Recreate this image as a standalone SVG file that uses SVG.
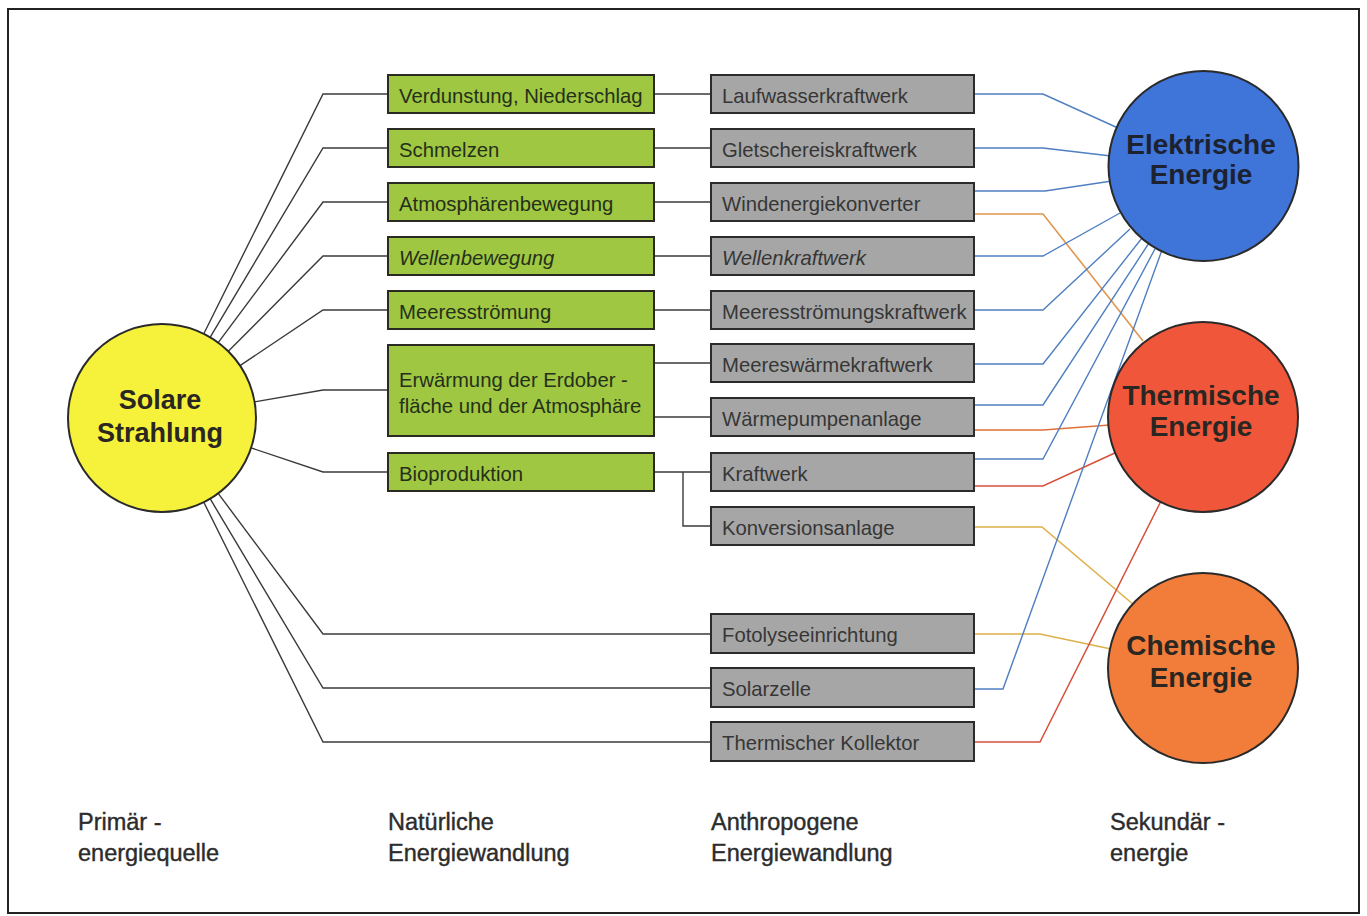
<svg xmlns="http://www.w3.org/2000/svg" width="1367" height="916" viewBox="0 0 1367 916">
<style>
.frame{fill:#ffffff;stroke:#222;stroke-width:2}
.gbox{fill:#9fc742;stroke:#2a2a22;stroke-width:2}
.xbox{fill:#a6a6a6;stroke:#2b2b2b;stroke-width:2}
.gt{font-family:"Liberation Sans",Arial,sans-serif;font-size:20.3px;fill:#25301a}
.xt{font-family:"Liberation Sans",Arial,sans-serif;font-size:20.3px;fill:#363636}
.it{font-style:italic}
.ct{font-family:"Liberation Sans",Arial,sans-serif;font-size:28px;font-weight:bold;fill:#2a2622;text-anchor:middle}
.lab{font-family:"Liberation Sans",Arial,sans-serif;font-size:23.5px;fill:#2c2c2c;stroke:#2c2c2c;stroke-width:0.4}
.k{fill:none;stroke:#3a3a3a;stroke-width:1.4}
.b{fill:none;stroke:#4f7fc0;stroke-width:1.4}
.o{fill:none;stroke:#e09650;stroke-width:1.6}
.r{fill:none;stroke:#d8503a;stroke-width:1.5}
.ro{fill:none;stroke:#e0703a;stroke-width:1.5}
.y{fill:none;stroke:#ddb04a;stroke-width:1.6}
.circ{stroke:#2a2a2a;stroke-width:2}
</style>
<rect class="frame" x="8" y="9" width="1351" height="904"/>
<g id="connectors">
<path class="k" d="M203.8,333.8 L323,94 H388"/>
<path class="k" d="M210.1,337.3 L323,148 H388"/>
<path class="k" d="M218.2,342.6 L323,202 H388"/>
<path class="k" d="M228.3,351.3 L323,256 H388"/>
<path class="k" d="M240,365.6 L323,310 H388"/>
<path class="k" d="M254.6,401.9 L323,390 H388"/>
<path class="k" d="M251.1,447.9 L323,472 H388"/>
<path class="k" d="M218.2,493.4 L323,634 H711"/>
<path class="k" d="M210.1,498.7 L323,688 H711"/>
<path class="k" d="M203.8,502.2 L323,742 H711"/>
<path class="k" d="M654,94 H711 M654,148 H711 M654,202 H711 M654,256 H711 M654,310 H711 M654,363 H711 M654,417 H711 M654,472 H711 M683,472 V526 H711"/>
<path class="b" d="M974,94 H1043 L1118,128"/>
<path class="b" d="M974,148 H1043 L1111,156"/>
<path class="b" d="M974,191 H1045 L1112,181"/>
<path class="o" d="M974,214 H1043 L1143,341"/>
<path class="b" d="M974,256 H1043 L1120,213"/>
<path class="b" d="M974,310 H1043 L1130,229"/>
<path class="b" d="M974,364 H1043 L1142,238"/>
<path class="b" d="M974,405 H1043 L1149,243"/>
<path class="ro" d="M974,430 H1043 L1110,425"/>
<path class="b" d="M974,459 H1043 L1156,247"/>
<path class="r" d="M974,486 H1043 L1117,452"/>
<path class="y" d="M974,527 H1042 L1134,605"/>
<path class="y" d="M974,634 H1040 L1111,649"/>
<path class="b" d="M974,689 H1003 L1162,250"/>
<path class="r" d="M974,742 H1040 L1161,501"/>
</g>
<g id="solar">
<circle class="circ" cx="162" cy="418" r="94" fill="#f6f23c"/>
<text class="ct" x="160" y="409" style="font-size:27px">Solare</text>
<text class="ct" x="160" y="442" style="font-size:27px">Strahlung</text>
</g>
<g id="elektrisch">
<circle class="circ" cx="1203.5" cy="166" r="95" fill="#3f74d8"/>
<text class="ct" x="1201" y="154" style="fill:#1c2230">Elektrische</text>
<text class="ct" x="1201" y="184" style="fill:#1c2230">Energie</text>
</g>
<g id="thermisch">
<circle class="circ" cx="1203" cy="417" r="95" fill="#f0573a"/>
<text class="ct" x="1201" y="405">Thermische</text>
<text class="ct" x="1201" y="436">Energie</text>
</g>
<g id="chemisch">
<circle class="circ" cx="1203" cy="668" r="95" fill="#f27d3b"/>
<text class="ct" x="1201" y="655">Chemische</text>
<text class="ct" x="1201" y="687">Energie</text>
</g>
<g id="n-verdunstung"><rect class="gbox" x="388" y="75" width="266" height="38"/><text class="gt" x="399" y="103">Verdunstung, Niederschlag</text></g>
<g id="n-schmelzen"><rect class="gbox" x="388" y="129" width="266" height="38"/><text class="gt" x="399" y="157">Schmelzen</text></g>
<g id="n-atmos"><rect class="gbox" x="388" y="183" width="266" height="38"/><text class="gt" x="399" y="211">Atmosphärenbewegung</text></g>
<g id="n-wellen"><rect class="gbox" x="388" y="237" width="266" height="38"/><text class="gt it" x="399" y="265">Wellenbewegung</text></g>
<g id="n-meeres"><rect class="gbox" x="388" y="291" width="266" height="38"/><text class="gt" x="399" y="319">Meeresströmung</text></g>
<g id="n-erwaermung"><rect class="gbox" x="388" y="345" width="266" height="91"/><text class="gt" x="399" y="387">Erwärmung der Erdober -</text><text class="gt" x="399" y="413">fläche und der Atmosphäre</text></g>
<g id="n-bio"><rect class="gbox" x="388" y="453" width="266" height="38"/><text class="gt" x="399" y="481">Bioproduktion</text></g>
<g id="a-laufwasser"><rect class="xbox" x="711" y="75" width="263" height="38"/><text class="xt" x="722" y="103">Laufwasserkraftwerk</text></g>
<g id="a-gletscher"><rect class="xbox" x="711" y="129" width="263" height="38"/><text class="xt" x="722" y="157">Gletschereiskraftwerk</text></g>
<g id="a-wind"><rect class="xbox" x="711" y="183" width="263" height="38"/><text class="xt" x="722" y="211">Windenergiekonverter</text></g>
<g id="a-wellen"><rect class="xbox" x="711" y="237" width="263" height="38"/><text class="xt it" x="722" y="265">Wellenkraftwerk</text></g>
<g id="a-meeresstroem"><rect class="xbox" x="711" y="291" width="263" height="38"/><text class="xt" x="722" y="319">Meeresströmungskraftwerk</text></g>
<g id="a-meereswaerme"><rect class="xbox" x="711" y="344" width="263" height="38"/><text class="xt" x="722" y="372">Meereswärmekraftwerk</text></g>
<g id="a-waermepumpe"><rect class="xbox" x="711" y="398" width="263" height="38"/><text class="xt" x="722" y="426">Wärmepumpenanlage</text></g>
<g id="a-kraftwerk"><rect class="xbox" x="711" y="453" width="263" height="38"/><text class="xt" x="722" y="481">Kraftwerk</text></g>
<g id="a-konversion"><rect class="xbox" x="711" y="507" width="263" height="38"/><text class="xt" x="722" y="535">Konversionsanlage</text></g>
<g id="a-fotolyse"><rect class="xbox" x="711" y="614" width="263" height="39"/><text class="xt" x="722" y="642">Fotolyseeinrichtung</text></g>
<g id="a-solarzelle"><rect class="xbox" x="711" y="668" width="263" height="39"/><text class="xt" x="722" y="696">Solarzelle</text></g>
<g id="a-kollektor"><rect class="xbox" x="711" y="722" width="263" height="39"/><text class="xt" x="722" y="750">Thermischer Kollektor</text></g>
<g id="labels">
<text class="lab" x="78" y="830">Primär -</text>
<text class="lab" x="78" y="861">energiequelle</text>
<text class="lab" x="388" y="830">Natürliche</text>
<text class="lab" x="388" y="861">Energiewandlung</text>
<text class="lab" x="711" y="830">Anthropogene</text>
<text class="lab" x="711" y="861">Energiewandlung</text>
<text class="lab" x="1110" y="830">Sekundär -</text>
<text class="lab" x="1110" y="861">energie</text>
</g>
</svg>
